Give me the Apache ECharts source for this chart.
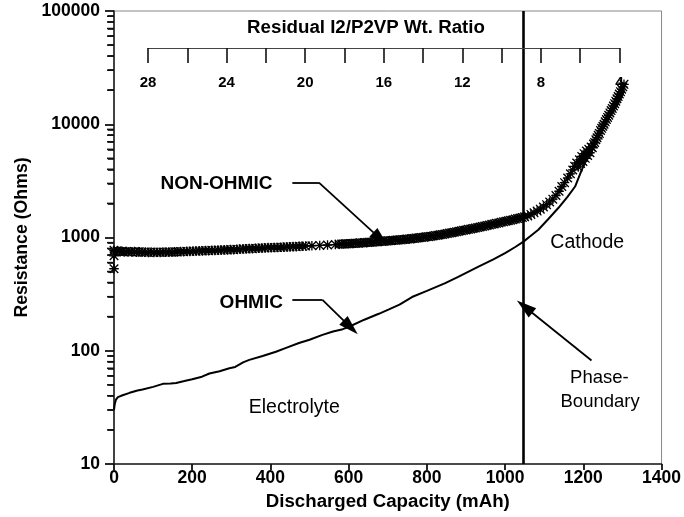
<!DOCTYPE html>
<html>
<head>
<meta charset="utf-8">
<script src="https://cdn.jsdelivr.net/npm/echarts@6/dist/echarts.min.js"></script>
<style>html,body{margin:0;padding:0;background:#fff}#c{width:684px;height:517px}</style>
</head>
<body>
<div id="c"></div>
<script>
// ---- data ----
const capTicks = [0, 200, 400, 600, 800, 1000, 1200, 1400];
const resTicks = [10, 100, 1000, 10000, 100000];
const ratioTicks = [28, 26, 24, 22, 20, 18, 16, 14, 12, 10, 8, 6, 4];
const ratioTickLabels = [28, 24, 20, 16, 12, 8, 4];
const yMinorTicks = [20,30,40,50,60,70,80,90,200,300,400,500,600,700,800,900,
  2000,3000,4000,5000,6000,7000,8000,9000,20000,30000,40000,50000,60000,70000,80000,90000];

const phaseBoundaryCap = 1047;

// NON-OHMIC (asterisks): [capacity mAh, resistance Ohms]
const nonOhmic = [
  [0,530],[0,690],[0,770],[3,748],[8,762],[14,752],[20,757],[26,746],[32,754],[38,748],
  [45,744],[52,751],[58,742],[65,749],[72,741],[80,746],[88,739],[95,744],[102,738],[110,742],
  [118,737],[125,744],[132,740],[140,746],[148,742],[155,748],[162,745],[170,751],[178,748],[186,755],
  [194,752],[202,759],[210,756],[218,762],[226,759],[234,766],[242,763],[250,770],[258,767],[266,775],
  [274,771],[282,778],[290,776],[298,783],[306,781],[314,788],[322,786],[330,794],[338,792],[346,799],
  [354,797],[362,804],[370,802],[378,809],[386,807],[394,814],[402,812],[410,818],[418,817],[426,822],
  [434,821],[442,827],[450,826],[458,831],[466,830],[474,836],[482,835],[490,840],
  [506,846],[526,852],[546,858],[566,866],
  [576,872],[582,877],[588,875],[594,881],[600,880],[606,886],[612,885],[618,891],[624,890],[630,897],
  [636,896],[642,903],[648,902],[654,909],[660,909],[666,916],[672,916],[678,923],[684,923],[690,930],
  [696,930],[702,937],[708,937],[714,944],[720,945],[726,952],[732,953],[738,961],[744,962],[750,970],
  [756,972],[762,980],[768,982],[774,991],[780,993],[786,1002],[792,1005],[798,1014],[804,1017],[810,1027],
  [816,1031],[822,1041],[828,1046],[834,1057],[840,1063],[846,1075],[852,1082],[858,1094],[864,1102],[870,1115],
  [876,1123],[882,1136],[888,1145],[894,1158],[900,1167],[906,1180],[912,1190],[918,1203],[924,1213],[930,1227],
  [936,1238],[942,1252],[948,1264],[954,1279],[960,1291],[966,1306],[972,1318],[978,1334],[984,1346],[990,1362],
  [996,1375],[1002,1392],[1008,1405],[1014,1422],[1020,1436],[1026,1454],[1032,1468],[1038,1487],[1044,1502],[1050,1522],
  [1058,1550],[1066,1600],[1074,1650],[1082,1710],[1090,1780],[1098,1860],[1106,1950],[1114,2060],[1122,2180],[1130,2350],
  [1138,2560],[1145,2820],[1152,3050],[1160,3350],[1167,3650],[1173,3950],[1178,4250],[1183,4550],[1187,4200],[1190,4850],
  [1193,4500],[1196,5200],[1199,4700],[1202,5500],[1205,5000],[1208,5800],[1211,5300],[1214,6000],[1217,5600],[1220,6300],
  [1223,6200],[1226,6700],[1229,6900],[1232,7300],[1235,7600],[1238,8000],[1241,8300],[1244,8800],[1247,9200],[1250,9600],
  [1253,10000],[1256,10500],[1259,11000],[1262,11500],[1265,12000],[1268,12600],[1271,13200],[1274,13800],[1277,14500],[1280,15200],
  [1283,16000],[1286,16800],[1289,17600],[1292,18500],[1295,19400],[1298,20400],[1301,21400],[1304,22500]
];

// OHMIC (solid line): [capacity mAh, resistance Ohms]
const ohmic = [
  [0,30],[2,34],[5,37],[10,39],[22,40.5],[40,42.5],[60,44.5],[73,45.5],[100,48],[125,51],
  [145,51.5],[159,52],[180,54],[200,56],[225,59],[244,63],[270,66],[295,70],[310,72],[330,79],
  [346,83],[380,90],[414,98],[440,106],[473,117],[500,125],[533,138],[560,148],[585,155],[601,163],
  [640,188],[677,212],[703,232],[730,255],[762,298],[800,338],[847,395],[880,450],[932,553],[970,640],
  [1000,727],[1025,820],[1047,920],[1065,1030],[1085,1170],[1110,1450],[1136,1820],[1160,2300],[1179,2820],[1196,3950],
  [1210,5000],[1230,7200],[1250,9300],[1270,12000],[1290,15500],[1305,20000]
];

// annotation arrows in data coordinates: [from, corner, tip]
const arrowNonOhmic = [[456,3055],[524,3055],[682,966]];
const arrowOhmic = [[456,281],[533,281],[605,161]];
const arrowPhase = [[1221,82],[1050,245]];

const FONT = "'Liberation Sans', Arial, Helvetica, sans-serif";
const asterisk = 'path://M4.3,0L5.7,0L5.7,10L4.3,10Z M0,4.3L10,4.3L10,5.7L0,5.7Z M0,1L1,0L10,9L9,10Z M9,0L10,1L1,10L0,9Z';

function seg(a, b, withArrow) {
  return [
    {coord: a, symbol: 'none'},
    {coord: b, symbol: withArrow ? 'triangle' : 'none', symbolSize: withArrow ? [12, 20] : 0}
  ];
}

const chart = echarts.init(document.getElementById('c'), null, {renderer: 'canvas'});
chart.setOption({
  animation: false,
  backgroundColor: '#fff',
  textStyle: {fontFamily: FONT, color: '#000'},
  grid: [
    {left: 114, right: 21, top: 11, bottom: 53, show: true, borderColor: '#888', borderWidth: 1},
    {left: 148, right: 64.5, top: 47, height: 1, show: false}
  ],
  xAxis: [
    {
      type: 'value', gridIndex: 0, min: 0, max: 1400, interval: 200,
      name: 'Discharged Capacity (mAh)', nameLocation: 'middle', nameGap: 22,
      nameTextStyle: {fontSize: 18.7, fontWeight: 'bold', color: '#000', fontFamily: FONT},
      axisLine: {lineStyle: {color: '#222', width: 1.6}},
      axisTick: {show: true, length: 6, customValues: capTicks, lineStyle: {color: '#111', width: 1.8}},
      axisLabel: {fontSize: 17.5, fontWeight: 'bold', color: '#000', margin: 5, fontFamily: FONT,
        formatter: v => capTicks.includes(v) ? String(v) : ''},
      splitLine: {show: false}
    },
    {
      type: 'value', gridIndex: 1, min: 4, max: 28, inverse: true, position: 'bottom', z: 10,
      axisLine: {lineStyle: {color: '#444', width: 1.2}},
      axisTick: {length: 15, customValues: ratioTicks, lineStyle: {color: '#111', width: 1.6}},
      axisLabel: {fontSize: 15, fontWeight: 'bold', color: '#000', margin: 27, fontFamily: FONT,
        customValues: ratioTickLabels, showMinLabel: true, showMaxLabel: true, hideOverlap: false},
      splitLine: {show: false}
    }
  ],
  yAxis: [
    {
      type: 'log', logBase: 10, gridIndex: 0, min: 10, max: 100000,
      name: 'Resistance (Ohms)', nameLocation: 'middle', nameGap: 76,
      nameTextStyle: {fontSize: 17.7, fontWeight: 'bold', color: '#000', fontFamily: FONT},
      axisLine: {show: true, lineStyle: {color: '#222', width: 1.6}},
      axisTick: {show: true, length: 9, lineStyle: {color: '#111', width: 1.8}},
      axisLabel: {fontSize: 17.5, fontWeight: 'bold', color: '#000', margin: 14, fontFamily: FONT,
        formatter: v => resTicks.includes(Math.round(v)) ? String(Math.round(v)) : ''},
      minorTick: {show: false},
      splitLine: {show: false}
    },
    {
      // minor log ticks at 2..9 x each decade, drawn by a twin log axis
      type: 'log', logBase: 10, gridIndex: 0, min: 10, max: 100000, position: 'left',
      axisLine: {show: false}, axisLabel: {show: false}, splitLine: {show: false},
      axisTick: {show: true, length: 6, customValues: yMinorTicks, lineStyle: {color: '#111', width: 1.6}}
    },
    {type: 'value', gridIndex: 1, show: false, min: 0, max: 1}
  ],
  series: [
    {
      name: 'OHMIC', type: 'line', xAxisIndex: 0, yAxisIndex: 0,
      data: ohmic, showSymbol: false, symbol: 'none', smooth: false,
      lineStyle: {color: '#000', width: 2}, z: 3,
      markLine: {
        silent: true, symbol: ['none', 'none'], label: {show: false},
        lineStyle: {color: '#000', width: 2.6, type: 'solid'},
        data: [{xAxis: phaseBoundaryCap}]
      }
    },
    {
      name: 'NON-OHMIC', type: 'line', xAxisIndex: 0, yAxisIndex: 0,
      data: nonOhmic, symbol: asterisk, symbolSize: 9.5, showSymbol: true, showAllSymbol: true,
      lineStyle: {color: '#000', width: 1}, itemStyle: {color: '#000'}, z: 4
    },
    {
      name: 'arrows', type: 'line', xAxisIndex: 0, yAxisIndex: 0, data: [],
      markLine: {
        silent: true, label: {show: false}, animation: false,
        lineStyle: {color: '#000', width: 1.8, type: 'solid'},
        itemStyle: {color: '#000'},
        data: [
          seg(arrowNonOhmic[0], arrowNonOhmic[1], false),
          seg(arrowNonOhmic[1], arrowNonOhmic[2], true),
          seg(arrowOhmic[0], arrowOhmic[1], false),
          seg(arrowOhmic[1], arrowOhmic[2], true),
          seg(arrowPhase[0], arrowPhase[1], true)
        ]
      }
    },
    {name: 'minorAxisHolder', type: 'line', xAxisIndex: 0, yAxisIndex: 1, data: []},
    {name: 'ratio', type: 'line', xAxisIndex: 1, yAxisIndex: 2, data: []}
  ]
});

// text annotations + minor log ticks placed through the chart's own scales
function px(c) { return chart.convertToPixel({xAxisIndex: 0, yAxisIndex: 0}, c); }
const texts = [
  {t: 'NON-OHMIC', at: [262, 2960], bold: true, size: 19},
  {t: 'OHMIC', at: [351, 265], bold: true, size: 19},
  {t: 'Electrolyte', at: [461, 31.6], bold: false, size: 19.5},
  {t: 'Cathode', at: [1210, 905], bold: false, size: 19.5},
  {t: 'Phase-', at: [1241, 57], bold: false, size: 18.5},
  {t: 'Boundary', at: [1243, 35.5], bold: false, size: 18.5}
];
const graphics = texts.map(o => {
  const p = px(o.at);
  return {type: 'text', x: p[0], y: p[1], silent: true,
    style: {text: o.t, fontSize: o.size, fontWeight: o.bold ? 'bold' : 'normal', fontFamily: FONT,
      fill: '#000', textAlign: 'center', textVerticalAlign: 'middle'}};
});
yMinorTicks.forEach(v => {
  const p = px([0, v]);
  graphics.push({type: 'line', silent: true, z: 100,
    shape: {x1: p[0] - 7, y1: p[1], x2: p[0], y2: p[1]},
    style: {stroke: '#111', lineWidth: 1.6}});
});
graphics.push({type: 'text', x: 366, y: 28, silent: true,
  style: {text: 'Residual I2/P2VP Wt. Ratio', fontSize: 18.7, fontWeight: 'bold', fontFamily: FONT, fill: '#000',
    textAlign: 'center', textVerticalAlign: 'middle'}});
chart.setOption({graphic: graphics});
</script>
</body>
</html>
